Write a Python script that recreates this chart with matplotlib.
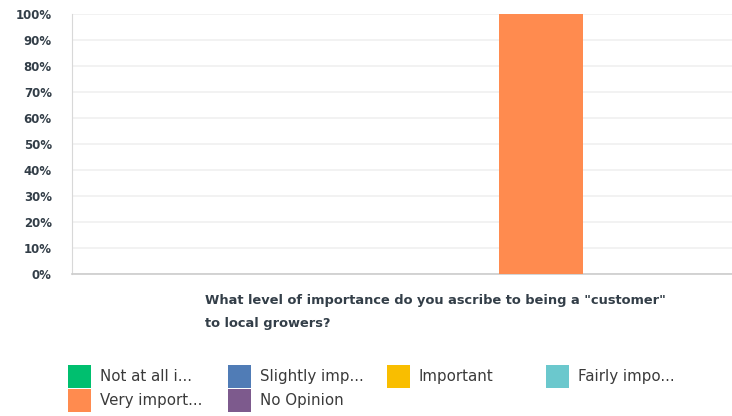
import numpy as np
import matplotlib
matplotlib.use("Agg")
from matplotlib import pyplot as plt

# survey data
question = 'What level of importance do you ascribe to being a "customer"\nto local growers?'
series = ["Not at all i...", "Slightly imp...", "Important", "Fairly impo...", "Very import...", "No Opinion"]
values = [0, 0, 0, 0, 100, 0]
colors = ["#00bf6f", "#507cb6", "#f9be00", "#6bc8cd", "#ff8b4f", "#7d5a8d"]
yticks = [0, 10, 20, 30, 40, 50, 60, 70, 80, 90, 100]

W, H = 732, 416
fig = plt.figure(figsize=(W / 100, H / 100), dpi=100)
ax = fig.add_axes([72 / W, 1 - 274 / H, 1 - 72 / W, (274 - 14) / H])

# one category, six grouped bars
bars = []
for i, (name, v, c) in enumerate(zip(series, values, colors)):
    b = ax.bar(i - 2.5, v, width=1.0, color=c, label=name, zorder=3)
    bars.append(b)

ax.set_xlim(-4.08, 3.77)
ax.set_ylim(0, 100)
ax.set_yticks(yticks)
ax.set_yticklabels([f"{t}%" for t in yticks], fontsize=8.5, fontweight="bold", color="#333e48")
ax.set_xticks([])
ax.tick_params(axis="y", length=0, pad=14.5)
ax.grid(axis="y", color="#f0f0f0", linewidth=1.2, zorder=0)
for s in ["top", "right"]:
    ax.spines[s].set_visible(False)
ax.spines["left"].set_color("#d8d8d8")
ax.spines["bottom"].set_color("#cccccc")
ax.spines["bottom"].set_linewidth(1.2)

# category label under the axis
fig.text(205 / W, 1 - 294 / H, question, ha="left", va="top", fontsize=9.4,
         fontweight="bold", color="#333e48", linespacing=1.95)

# legend: four columns placed by hand
col_x = [68, 228, 387, 546]
cols = [[0, 4], [1, 5], [2], [3]]
for x, idx in zip(col_x, cols):
    leg = fig.legend([bars[k] for k in idx], [series[k] for k in idx],
                     loc="upper left", bbox_to_anchor=(x / W, 1 - 365 / H),
                     frameon=False, fontsize=10.8, handlelength=1.53, handleheight=1.98,
                     handletextpad=0.6, labelspacing=0.05, borderpad=0, borderaxespad=0)
    for t in leg.get_texts():
        t.set_color("#3a3a3a")

fig.savefig("out.png", dpi=100)
